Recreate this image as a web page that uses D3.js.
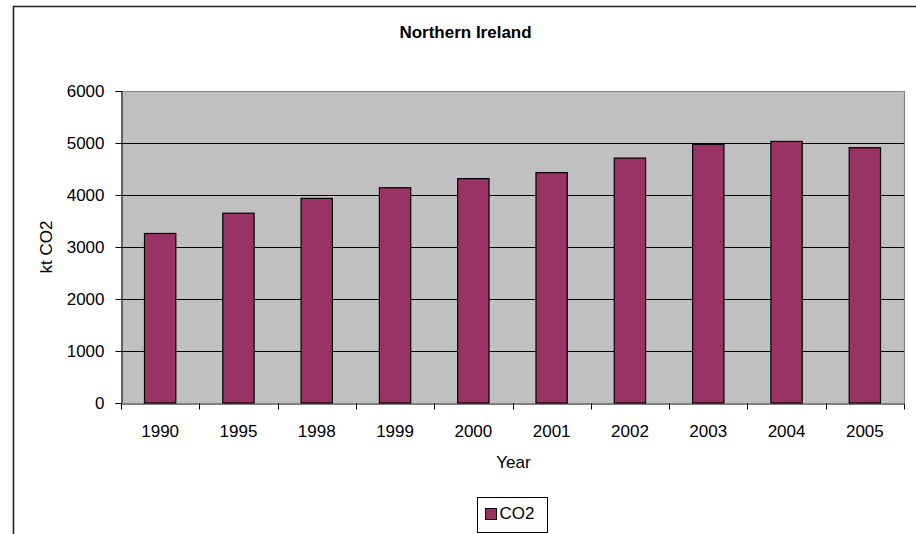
<!DOCTYPE html>
<html>
<head>
<meta charset="utf-8">
<script src="https://cdn.jsdelivr.net/npm/d3@7"></script>
<style>
  html, body { margin: 0; padding: 0; background: #ffffff; }
  svg { display: block; font-family: "Liberation Sans", Arial, sans-serif; }
</style>
</head>
<body>
<svg id="chart" width="916" height="534"></svg>
<script>
// Annual CO2 emissions, Northern Ireland (kt CO2)
const years = ["1990", "1995", "1998", "1999", "2000", "2001", "2002", "2003", "2004", "2005"];
const co2 = [3260, 3650, 3935, 4140, 4315, 4430, 4710, 4975, 5030, 4910];
const yTicks = [0, 1000, 2000, 3000, 4000, 5000, 6000];
const seriesName = "CO2";
const titleText = "Northern Ireland";
const xTitle = "Year";
const yTitle = "kt CO2";

const svg = d3.select("#chart");
const W = 916, H = 534;
const plot = { left: 121, right: 904, top: 91, bottom: 403 };
const fontSize = 17;

svg.append("rect").attr("width", W).attr("height", H).attr("fill", "#ffffff");

// chart frame (runs off the right and bottom edges)
svg.append("path")
  .attr("d", `M13.5,${H + 2}V6.5H${W + 2}`)
  .attr("fill", "none").attr("stroke", "#222").attr("stroke-width", 1.6);

const x = d3.scaleBand().domain(years).range([plot.left, plot.right])
  .paddingInner(0.6).paddingOuter(0.3);
const y = d3.scaleLinear().domain([0, 6000]).range([plot.bottom, plot.top]);

// plot area background
svg.append("rect")
  .attr("x", plot.left).attr("y", plot.top)
  .attr("width", plot.right - plot.left).attr("height", plot.bottom - plot.top)
  .attr("fill", "#c0c0c0");

// horizontal gridlines
svg.append("g").selectAll("line").data(yTicks.filter(v => v > 0 && v < 6000)).join("line")
  .attr("x1", plot.left).attr("x2", plot.right)
  .attr("y1", d => Math.round(y(d)) + 0.5).attr("y2", d => Math.round(y(d)) + 0.5)
  .attr("stroke", "#000").attr("stroke-width", 1);

// plot area top and right border
svg.append("path")
  .attr("d", `M${plot.left},${plot.top + 0.5}H${plot.right + 0.5}V${plot.bottom}`)
  .attr("fill", "none").attr("stroke", "#808080").attr("stroke-width", 1.2);

// bars
svg.append("g").selectAll("rect").data(years).join("rect")
  .attr("x", d => x(d))
  .attr("y", (d, i) => y(co2[i]))
  .attr("width", x.bandwidth())
  .attr("height", (d, i) => y(0) - y(co2[i]))
  .attr("fill", "#993366")
  .attr("stroke", "#000").attr("stroke-width", 1.2);

// y axis
const yAxis = svg.append("g")
  .attr("transform", `translate(${plot.left + 0.5},0)`)
  .call(d3.axisLeft(y).tickValues(yTicks).tickSize(6).tickPadding(11).tickFormat(d3.format("d")));
yAxis.select(".domain").attr("stroke", "#000");
yAxis.selectAll(".tick line").attr("stroke", "#000");
yAxis.selectAll("text").attr("font-size", fontSize).attr("fill", "#000")
  .attr("font-family", "Liberation Sans, Arial, sans-serif");

// x axis: labels centred in each band, tick marks on band boundaries
const xAxis = svg.append("g")
  .attr("transform", `translate(0,${plot.bottom + 0.5})`)
  .call(d3.axisBottom(x).tickSize(0).tickPadding(21).tickSizeOuter(0));
xAxis.select(".domain").attr("stroke", "#000");
xAxis.selectAll("text").attr("font-size", fontSize).attr("fill", "#000")
  .attr("font-family", "Liberation Sans, Arial, sans-serif");
const bounds = d3.range(years.length + 1).map(i => plot.left + i * x.step());
xAxis.selectAll("line.bound").data(bounds).join("line")
  .attr("class", "bound")
  .attr("x1", d => Math.round(d) + 0.5).attr("x2", d => Math.round(d) + 0.5)
  .attr("y1", 0).attr("y2", 6)
  .attr("stroke", "#000");

// titles
svg.append("text")
  .attr("x", 465.5).attr("y", 38)
  .attr("text-anchor", "middle").attr("font-weight", "bold").attr("font-size", fontSize)
  .text(titleText);

svg.append("text")
  .attr("x", (plot.left + plot.right) / 2 + 1).attr("y", 468)
  .attr("text-anchor", "middle").attr("font-size", fontSize)
  .text(xTitle);

svg.append("text")
  .attr("transform", `translate(52,${(plot.top + plot.bottom) / 2}) rotate(-90)`)
  .attr("text-anchor", "middle").attr("font-size", fontSize)
  .text(yTitle);

// legend
const lg = svg.append("g").attr("transform", "translate(477.5,497.5)");
lg.append("rect").attr("width", 70).attr("height", 35)
  .attr("fill", "#fff").attr("stroke", "#000").attr("stroke-width", 1);
lg.append("rect").attr("x", 8).attr("y", 11).attr("width", 11).attr("height", 11)
  .attr("fill", "#993366").attr("stroke", "#000").attr("stroke-width", 1);
lg.append("text").attr("x", 22).attr("y", 21.5).attr("font-size", fontSize)
  .text(seriesName);
</script>
</body>
</html>
